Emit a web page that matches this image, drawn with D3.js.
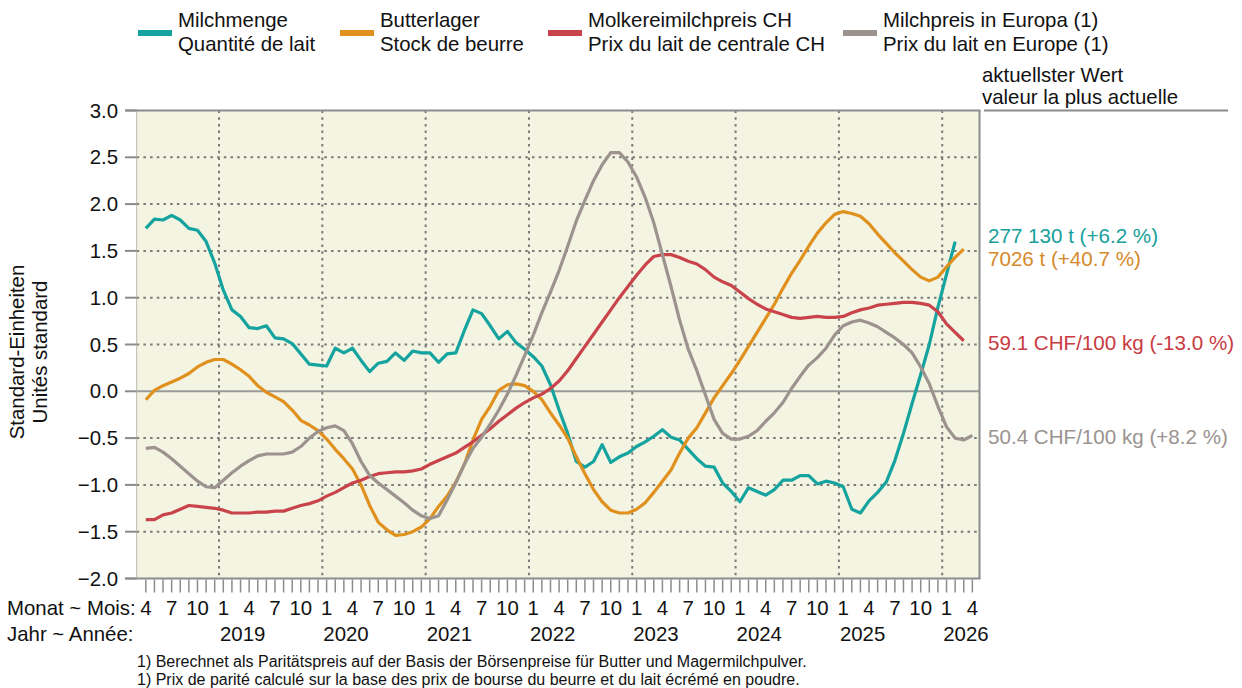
<!DOCTYPE html>
<html>
<head>
<meta charset="utf-8">
<script src="https://cdn.jsdelivr.net/npm/d3@7"></script>
<style>
  html, body { margin: 0; padding: 0; background: #ffffff; }
  svg { display: block; font-family: "Liberation Sans", Arial, sans-serif; }
</style>
</head>
<body>
<svg id="chart" width="1242" height="688"></svg>
<script>
// ---------- DATA (monthly, first value = April 2018) ----------
const startYear = 2018;
const startMonth = 4; // April

const milchmenge = [
  1.74, 1.84, 1.83, 1.88, 1.83, 1.74, 1.72, 1.60, 1.37, 1.08,
  0.87, 0.80, 0.68, 0.67, 0.70, 0.57, 0.56, 0.51, 0.40, 0.29,
  0.28, 0.27, 0.46, 0.41, 0.46, 0.33, 0.21, 0.30, 0.32, 0.41,
  0.33, 0.43, 0.41, 0.41, 0.31, 0.40, 0.41, 0.65, 0.87, 0.83,
  0.70, 0.56, 0.64, 0.52, 0.45, 0.37, 0.27, 0.07, -0.20, -0.45,
  -0.75, -0.81, -0.75, -0.57, -0.76, -0.70, -0.66, -0.59, -0.54, -0.48,
  -0.41, -0.49, -0.52, -0.62, -0.72, -0.80, -0.81, -0.98, -1.07, -1.18,
  -1.03, -1.07, -1.11, -1.05, -0.95, -0.95, -0.90, -0.90, -0.99, -0.96,
  -0.98, -1.02, -1.26, -1.30, -1.17, -1.08, -0.97, -0.74, -0.45, -0.13,
  0.18, 0.50, 0.90, 1.25, 1.60
];

const butterlager = [
  -0.09, 0.01, 0.06, 0.10, 0.14, 0.19, 0.26, 0.31, 0.34, 0.34,
  0.29, 0.23, 0.16, 0.06, -0.01, -0.06, -0.11, -0.20, -0.31, -0.36,
  -0.42, -0.51, -0.62, -0.72, -0.83, -1.00, -1.22, -1.40, -1.48, -1.54,
  -1.53, -1.50, -1.45, -1.36, -1.23, -1.12, -0.97, -0.78, -0.52, -0.30,
  -0.16, 0.01, 0.07, 0.08, 0.06, 0.00, -0.09, -0.23, -0.36, -0.50,
  -0.70, -0.88, -1.05, -1.18, -1.27, -1.30, -1.30, -1.26, -1.19, -1.08,
  -0.96, -0.84, -0.66, -0.50, -0.39, -0.23, -0.07, 0.06, 0.19, 0.33,
  0.48, 0.63, 0.78, 0.93, 1.10, 1.26, 1.40, 1.55, 1.69, 1.80,
  1.89, 1.92, 1.90, 1.87, 1.79, 1.68, 1.58, 1.48, 1.39, 1.30,
  1.22, 1.18, 1.22, 1.33, 1.43, 1.52
];

const molkereimilchpreis = [
  -1.37, -1.37, -1.32, -1.30, -1.26, -1.22, -1.23, -1.24, -1.25, -1.27,
  -1.30, -1.30, -1.30, -1.29, -1.29, -1.28, -1.28, -1.25, -1.22, -1.20,
  -1.17, -1.12, -1.08, -1.03, -0.98, -0.95, -0.91, -0.88, -0.87, -0.86,
  -0.86, -0.85, -0.83, -0.78, -0.74, -0.70, -0.66, -0.60, -0.54, -0.47,
  -0.40, -0.32, -0.25, -0.18, -0.12, -0.07, -0.03, 0.03, 0.11, 0.22,
  0.35, 0.48, 0.61, 0.74, 0.87, 1.00, 1.12, 1.24, 1.35, 1.44,
  1.46, 1.46, 1.43, 1.39, 1.36, 1.30, 1.22, 1.17, 1.13, 1.06,
  0.99, 0.93, 0.88, 0.85, 0.82, 0.79, 0.78, 0.79, 0.80, 0.79,
  0.79, 0.80, 0.84, 0.87, 0.89, 0.92, 0.93, 0.94, 0.95, 0.95,
  0.94, 0.92, 0.85, 0.72, 0.63, 0.54
];

const milchpreisEuropa = [
  -0.61, -0.60, -0.65, -0.72, -0.80, -0.88, -0.96, -1.02, -1.03, -0.95,
  -0.87, -0.80, -0.74, -0.69, -0.67, -0.67, -0.67, -0.65, -0.59, -0.50,
  -0.43, -0.39, -0.37, -0.42, -0.56, -0.75, -0.90, -0.98, -1.05, -1.12,
  -1.19, -1.27, -1.33, -1.36, -1.33, -1.16, -0.98, -0.78, -0.61, -0.49,
  -0.35, -0.20, -0.03, 0.17, 0.38, 0.60, 0.84, 1.06, 1.29, 1.55,
  1.82, 2.04, 2.25, 2.42, 2.55, 2.55, 2.45, 2.29, 2.07, 1.80,
  1.46, 1.12, 0.76, 0.45, 0.22, -0.04, -0.30, -0.45, -0.51, -0.51,
  -0.48, -0.42, -0.32, -0.23, -0.12, 0.03, 0.16, 0.28, 0.36, 0.46,
  0.60, 0.70, 0.74, 0.76, 0.73, 0.69, 0.63, 0.57, 0.50, 0.41,
  0.26, 0.08, -0.16, -0.38, -0.50, -0.52, -0.47
];

const seriesNames = [
  ["Milchmenge", "Quantité de lait"],
  ["Butterlager", "Stock de beurre"],
  ["Molkereimilchpreis CH", "Prix du lait de centrale CH"],
  ["Milchpreis in Europa (1)", "Prix du lait en Europe (1)"]
];
const seriesColors = ["#14a39e", "#e0901d", "#c9434a", "#9c928e"];
const labelColors = ["#17a09b", "#d5892a", "#c93b42", "#9a9390"];
const latestLabels = [
  "277 130 t (+6.2 %)",
  "7026 t (+40.7 %)",
  "59.1 CHF/100 kg (-13.0 %)",
  "50.4 CHF/100 kg (+8.2 %)"
];
const yTicks = [3.0, 2.5, 2.0, 1.5, 1.0, 0.5, 0.0, -0.5, -1.0, -1.5, -2.0];
const years = [2019, 2020, 2021, 2022, 2023, 2024, 2025, 2026];
const monthLabelMonths = [1, 4, 7, 10];
const footnotes = [
  "1) Berechnet als Paritätspreis auf der Basis der Börsenpreise für Butter und Magermilchpulver.",
  "1) Prix de parité calculé sur la base des prix de bourse du beurre et du lait écrémé en poudre."
];

// ---------- LAYOUT ----------
const FS = 20.4;
const svg = d3.select("#chart");
const L = 136.7, R = 979.5, T = 110.5, B = 578.5;

// month index: months since Jan 2018 (Jan 2018 start = 0)
const x = d3.scaleLinear().domain([2.44, 100.33]).range([L, R]);
const y = d3.scaleLinear().domain([-2, 3]).range([B, T]);
const firstIdx = (startYear - 2018) * 12 + (startMonth - 1);
const mx = i => x(firstIdx + i + 0.5);

// background
svg.append("rect").attr("x", L).attr("y", T).attr("width", R - L).attr("height", B - T)
  .attr("fill", "#f4f4e2");

// horizontal grid
const g = svg.append("g");
yTicks.filter(v => v !== 0 && v < 3 && v > -2).forEach(v => {
  g.append("line").attr("x1", L).attr("x2", R).attr("y1", y(v)).attr("y2", y(v))
    .attr("stroke", "#7a7a7a").attr("stroke-width", 2).attr("stroke-dasharray", "2.5,4.2");
});
// vertical grid at year starts
years.forEach(yr => {
  const xx = x((yr - 2018) * 12);
  g.append("line").attr("x1", xx).attr("x2", xx).attr("y1", T).attr("y2", B)
    .attr("stroke", "#7a7a7a").attr("stroke-width", 2).attr("stroke-dasharray", "2.5,4.2");
});
// zero line
g.append("line").attr("x1", L).attr("x2", R).attr("y1", y(0)).attr("y2", y(0))
  .attr("stroke", "#9a9a9a").attr("stroke-width", 2);

// borders
const axc = "#8c8c8c";
svg.append("line").attr("x1", 125).attr("x2", R + 1).attr("y1", T).attr("y2", T).attr("stroke", axc).attr("stroke-width", 2);
svg.append("line").attr("x1", 125).attr("x2", R + 1).attr("y1", B).attr("y2", B).attr("stroke", axc).attr("stroke-width", 2);
svg.append("line").attr("x1", R).attr("x2", R).attr("y1", T).attr("y2", B).attr("stroke", axc).attr("stroke-width", 2);
svg.append("line").attr("x1", L).attr("x2", L).attr("y1", T).attr("y2", B).attr("stroke", "#b8b8b0").attr("stroke-width", 1);
svg.append("line").attr("x1", 984).attr("x2", 1228).attr("y1", T).attr("y2", T).attr("stroke", axc).attr("stroke-width", 2);

// y axis ticks + labels
yTicks.forEach(v => {
  svg.append("line").attr("x1", 125).attr("x2", L).attr("y1", y(v)).attr("y2", y(v))
    .attr("stroke", axc).attr("stroke-width", 2);
  svg.append("text").attr("x", 118).attr("y", y(v) + 7).attr("text-anchor", "end")
    .attr("font-size", FS).attr("fill", "#111").text(d3.format(".1f")(v));
});

// y axis title
[["Standard-Einheiten", 24], ["Unités standard", 47]].forEach(([t, xx]) => {
  svg.append("text").attr("transform", `translate(${xx},352) rotate(-90)`)
    .attr("text-anchor", "middle").attr("font-size", FS).attr("fill", "#111").text(t);
});

// x ticks (month centers)
const lastIdx = firstIdx + 96;
d3.range(firstIdx, lastIdx + 1).forEach(m => {
  const xx = x(m + 0.5);
  svg.append("line").attr("x1", xx).attr("x2", xx).attr("y1", B + 1).attr("y2", B + 14)
    .attr("stroke", "#8c8c8c").attr("stroke-width", 1.5);
  const mon = (m % 12) + 1;
  if (monthLabelMonths.includes(mon)) {
    svg.append("text").attr("x", xx).attr("y", 615).attr("text-anchor", "middle")
      .attr("font-size", FS).attr("fill", "#111").text(mon);
  }
});
svg.append("text").attr("x", 7).attr("y", 615).attr("font-size", FS).attr("fill", "#111").text("Monat ~ Mois:");
svg.append("text").attr("x", 7).attr("y", 641).attr("font-size", FS).attr("fill", "#111").text("Jahr ~ Année:");
years.forEach(yr => {
  svg.append("text").attr("x", x((yr - 2018) * 12) + 1).attr("y", 641)
    .attr("font-size", FS).attr("fill", "#111").text(yr);
});

// lines
const allSeries = [milchmenge, butterlager, molkereimilchpreis, milchpreisEuropa];
const line = d3.line().x((d, i) => mx(i)).y(d => y(d)).curve(d3.curveLinear);
allSeries.forEach((s, k) => {
  svg.append("path").datum(s).attr("d", line).attr("fill", "none")
    .attr("stroke", seriesColors[k]).attr("stroke-width", 3.2)
    .attr("stroke-linejoin", "round").attr("stroke-linecap", "butt");
});

// legend
const legX = [138, 340, 548, 843];
seriesNames.forEach((nm, k) => {
  svg.append("line").attr("x1", legX[k]).attr("x2", legX[k] + 34).attr("y1", 33).attr("y2", 33)
    .attr("stroke", seriesColors[k]).attr("stroke-width", 6);
  svg.append("text").attr("x", legX[k] + 40).attr("y", 27).attr("font-size", FS).attr("fill", "#111").text(nm[0]);
  svg.append("text").attr("x", legX[k] + 40).attr("y", 51).attr("font-size", FS).attr("fill", "#111").text(nm[1]);
});

// latest value header
svg.append("text").attr("x", 982).attr("y", 82).attr("font-size", FS).attr("fill", "#111").text("aktuellster Wert");
svg.append("text").attr("x", 982).attr("y", 104).attr("font-size", FS).attr("fill", "#111").text("valeur la plus actuelle");

// latest value labels
const labelY = [243, 266, 350, 444];
latestLabels.forEach((t, k) => {
  svg.append("text").attr("x", 988).attr("y", labelY[k]).attr("font-size", 20.6)
    .attr("fill", labelColors[k]).text(t);
});

// footnotes
footnotes.forEach((t, k) => {
  svg.append("text").attr("x", 137).attr("y", 667 + k * 18).attr("font-size", 16)
    .attr("fill", "#111").text(t);
});
</script>
</body>
</html>
